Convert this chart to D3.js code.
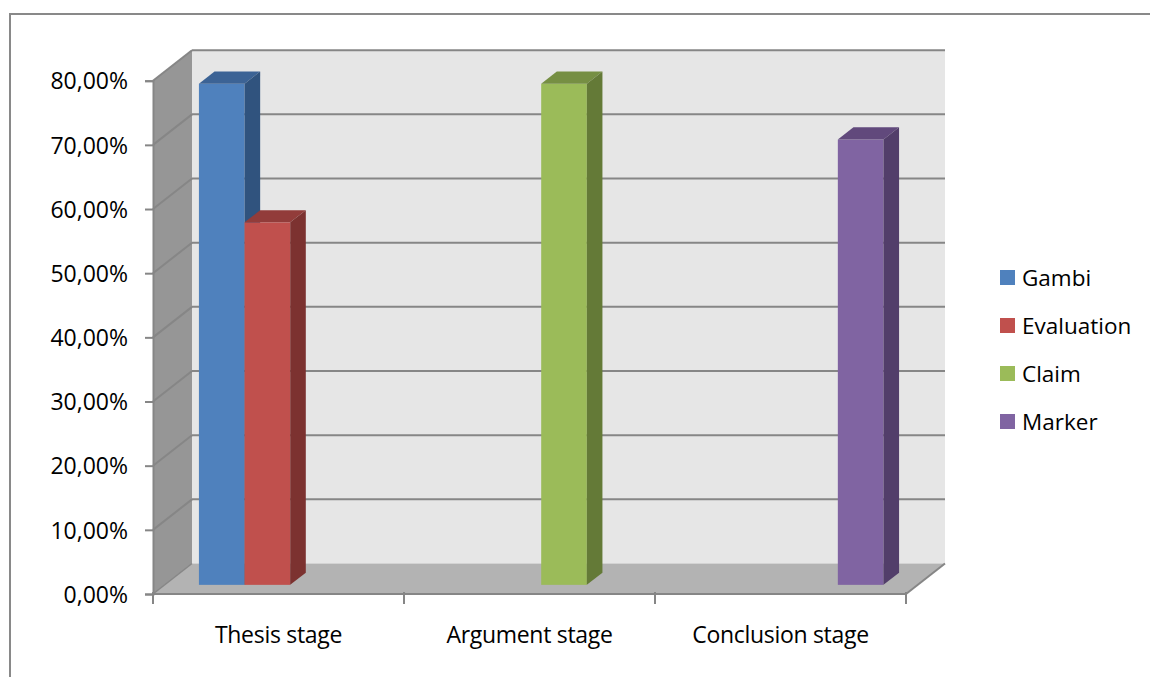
<!DOCTYPE html>
<html>
<head>
<meta charset="utf-8">
<script src="https://cdn.jsdelivr.net/npm/d3@7"></script>
<style>
  html, body { margin: 0; padding: 0; background: #fff; }
  svg { display: block; }
  text { font-family: "Open Sans", "Liberation Sans", sans-serif; fill: #000; }
</style>
</head>
<body>
<svg id="chart" width="1150" height="677"></svg>
<script>
// Data
const categories = ["Thesis stage", "Argument stage", "Conclusion stage"];
const seriesNames = ["Gambi", "Evaluation", "Claim", "Marker"];
const gambi      = [0.781, null, null];
const evaluation = [0.565, null, null];
const claim      = [null, 0.781, null];
const marker     = [null, null, 0.694];
const yTicks = [0, 0.1, 0.2, 0.3, 0.4, 0.5, 0.6, 0.7, 0.8];

const seriesValues = [gambi, evaluation, claim, marker];
const colors = {
  Gambi:      { front: "#4f81bd", top: "#3c6395", side: "#30537e" },
  Evaluation: { front: "#c0504d", top: "#923c3a", side: "#7c3230" },
  Claim:      { front: "#9bbb59", top: "#768f43", side: "#647a37" },
  Marker:     { front: "#8064a2", top: "#61497c", side: "#523e6a" }
};

const svg = d3.select("#chart");

// Plot geometry: front plane and the depth vector of the 3D box
const x0 = 153, x1 = 906;
const depth = { x: 39, y: -30.5 };
const y = d3.scaleLinear().domain([0, 0.8]).range([594, 80.7]);
const xCat = d3.scaleBand().domain(categories).range([x0, x1]).padding(0);
const xSer = d3.scaleBand().domain(seriesNames).range([0, xCat.bandwidth()])
  .paddingInner(0).paddingOuter(0.75);

const locale = d3.formatLocale({ decimal: ",", thousands: ".", grouping: [3], currency: ["", ""] });
const pct = locale.format(".2%");

const gridColor = "#868686";

// Outer frame
svg.append("rect")
  .attr("x", 10).attr("y", 14).attr("width", 1160).attr("height", 700)
  .attr("fill", "none").attr("stroke", "#898989").attr("stroke-width", 2);

// Walls and floor
const yTop = y(0.8), yBase = y(0);
svg.append("rect")
  .attr("x", x0 + depth.x).attr("y", yTop + depth.y)
  .attr("width", x1 - x0).attr("height", yBase - yTop)
  .attr("fill", "#e6e6e6");

svg.append("polygon")
  .attr("points", [
    [x0, yTop], [x0 + depth.x, yTop + depth.y],
    [x0 + depth.x, yBase + depth.y], [x0, yBase]
  ].map(p => p.join(",")).join(" "))
  .attr("fill", "#969696");

svg.append("polygon")
  .attr("points", [
    [x0, yBase], [x1, yBase],
    [x1 + depth.x, yBase + depth.y], [x0 + depth.x, yBase + depth.y]
  ].map(p => p.join(",")).join(" "))
  .attr("fill", "#b3b3b3");

// Gridlines on the back and side walls
const grid = svg.append("g").attr("stroke", gridColor).attr("stroke-width", 2).attr("fill", "none");
yTicks.filter(t => t > 0).forEach(t => {
  const yy = y(t);
  grid.append("line")
    .attr("x1", x0 + depth.x).attr("x2", x1 + depth.x)
    .attr("y1", yy + depth.y).attr("y2", yy + depth.y);
  grid.append("line")
    .attr("x1", x0).attr("x2", x0 + depth.x)
    .attr("y1", yy).attr("y2", yy + depth.y);
});
// Floor edges
grid.append("line").attr("x1", x0).attr("x2", x0 + depth.x)
  .attr("y1", yBase).attr("y2", yBase + depth.y).attr("stroke-width", 1.5);
grid.append("line").attr("x1", x1).attr("x2", x1 + depth.x)
  .attr("y1", yBase).attr("y2", yBase + depth.y);

// 3D columns: drawn left to right so each bar covers its left neighbour's side
const tFront = 0.3, tBack = 0.7;
const bars = [];
categories.forEach((c, ci) => {
  seriesNames.forEach((s, si) => {
    const v = seriesValues[si][ci];
    if (v != null) bars.push({ c, s, v });
  });
});
const barG = svg.append("g");
bars.forEach(b => {
  const bw = xSer.bandwidth();
  const fx = xCat(b.c) + xSer(b.s) + depth.x * tFront;
  const fy0 = y(0) + depth.y * tFront;
  const fy1 = y(b.v) + depth.y * tFront;
  const dx = depth.x * (tBack - tFront), dy = depth.y * (tBack - tFront);
  const col = colors[b.s];
  const g = barG.append("g");
  g.append("rect").attr("x", fx).attr("y", fy1).attr("width", bw).attr("height", fy0 - fy1)
    .attr("fill", col.front);
  g.append("polygon").attr("points", [
      [fx, fy1], [fx + dx, fy1 + dy], [fx + bw + dx, fy1 + dy], [fx + bw, fy1]
    ].map(p => p.join(",")).join(" ")).attr("fill", col.top);
  g.append("polygon").attr("points", [
      [fx + bw, fy1], [fx + bw + dx, fy1 + dy], [fx + bw + dx, fy0 + dy], [fx + bw, fy0]
    ].map(p => p.join(",")).join(" ")).attr("fill", col.side);
});

// Value axis
const yAxis = svg.append("g")
  .attr("transform", `translate(${x0},0)`)
  .call(d3.axisLeft(y).tickValues(yTicks).tickFormat(pct).tickSize(8).tickPadding(17));
yAxis.select(".domain").attr("stroke", gridColor).attr("stroke-width", 2);
yAxis.selectAll(".tick line").attr("stroke", gridColor).attr("stroke-width", 2);
yAxis.selectAll("text").attr("font-size", 23).attr("font-family", "'Open Sans', sans-serif")
  .attr("fill", "#000").attr("dy", "0.36em");

// Category axis
const xAxis = svg.append("g")
  .attr("transform", `translate(0,${yBase})`)
  .call(d3.axisBottom(xCat).tickSize(0).tickPadding(33));
xAxis.select(".domain").remove();
xAxis.selectAll("text").attr("font-size", 23).attr("font-family", "'Open Sans', sans-serif")
  .attr("fill", "#000").attr("letter-spacing", -0.3);
svg.append("line").attr("x1", x0).attr("x2", x1).attr("y1", yBase).attr("y2", yBase)
  .attr("stroke", gridColor).attr("stroke-width", 2);
const bounds = categories.map(c => xCat(c)).concat([x1]);
svg.append("g").selectAll("line").data(bounds).join("line")
  .attr("x1", d => d).attr("x2", d => d)
  .attr("y1", yBase - 2).attr("y2", yBase + 10)
  .attr("stroke", gridColor).attr("stroke-width", 2);

// Legend
const legend = svg.append("g").attr("transform", "translate(1000,270)");
seriesNames.forEach((s, i) => {
  const row = legend.append("g").attr("transform", `translate(0,${i * 48})`);
  row.append("rect").attr("width", 15).attr("height", 15).attr("fill", colors[s].front);
  row.append("text").attr("x", 22).attr("y", 7.5).attr("dy", "0.36em")
    .attr("font-size", 22.5).text(s);
});
</script>
</body>
</html>
